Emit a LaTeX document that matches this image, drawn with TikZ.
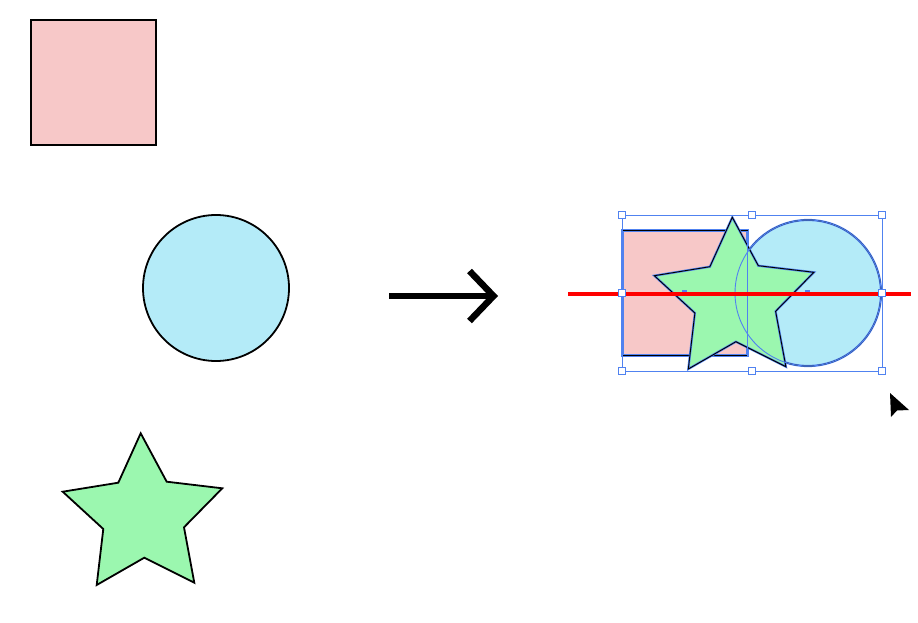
\documentclass[tikz,border=0pt]{standalone}
\usepackage{tikz}
\usetikzlibrary{arrows.meta}
\definecolor{sqpink}{RGB}{247,200,200}
\definecolor{discblue}{RGB}{180,235,248}
\definecolor{stargreen}{RGB}{155,247,175}
\definecolor{selblue}{RGB}{80,130,240}
\newcommand{\starpath}{(140.7,433.3) -- (166.7,481.7) -- (222.3,488.3) -- (184,527.3)
  -- (194.3,582.7) -- (144.3,557.7) -- (96.7,585) -- (103.3,529) -- (62.7,491.7)
  -- (118.3,482.7) -- cycle}

\begin{document}
\begin{tikzpicture}[
  x=1pt, y=-1pt,
  obj/.style={draw=black, line width=1.8pt, line join=miter},
  sqbox/.style={obj, fill=sqpink, minimum size=125pt, inner sep=0pt, outer sep=0pt},
  disc/.style={obj, circle, fill=discblue, minimum size=146pt, inner sep=0pt, outer sep=0pt},
  halo/.style={draw=selblue, line width=2.2pt, line join=miter},
  sel/.style={draw=selblue, line width=0.9pt},
  handle/.style={sel, fill=white, minimum size=7.5pt, inner sep=0pt},
  cmark/.style={fill=selblue, minimum width=5pt, minimum height=4pt, inner sep=0pt},
  cutline/.style={red, line width=3.5pt},
  bigarr/.style={line width=6.5pt, -{Straight Barb[length=24pt, width=50pt]}}
]
\useasboundingbox (0,0) rectangle (918,623);

% shapes before
\node[sqbox] (sq) at (93.5,82.5) {};
\node[disc] (cir) at (216,288) {};
\draw[obj, fill=stargreen] \starpath;

% arrow
\coordinate (arrS) at (389,296);
\coordinate (arrE) at (498,296);
\draw[bigarr] (arrS) -- (arrE);

% shapes after, selected
\fill[sqpink] (622.3,230.7) rectangle (747.7,355.7);
\draw[halo, line width=2.8pt] (622.3,230.7) rectangle (747.7,355.7);
\draw[black, line width=0.9pt] (622.3,230.7) rectangle (747.7,355.7);
\node[disc, draw=selblue, line width=2.2pt] (cirS) at (808,293) {};
\draw[black, line width=0.9pt] (808,293) circle[radius=73];
\begin{scope}[shift={(591.6,-216)}]
  \fill[stargreen] \starpath;
  \draw[halo] \starpath;
  \draw[black, line width=0.9pt] \starpath;
\end{scope}
\draw[sel, line width=1.2pt] (747.7,230.7) -- (747.7,355.7);
\draw[sel] (808,293) circle[radius=73];

% selection frame
\draw[sel] (622,215) rectangle (882,371);
\node[cmark] (mk1) at (684,292) {};
\node[cmark] (mk2) at (807,292) {};
\coordinate (cutL) at (568,294);
\coordinate (cutR) at (911,294);
\draw[cutline] (cutL) -- (cutR);
\foreach \hx/\hy [count=\i] in {622/215, 752/215, 882/215, 622/293, 882/293, 622/371, 752/371, 882/371}
  \node[handle] (h\i) at (\hx,\hy) {};

% cursor
\fill[black] (890,393) -- (891,417) -- (897,410.5) -- (909,410) -- cycle;
\end{tikzpicture}
\end{document}
